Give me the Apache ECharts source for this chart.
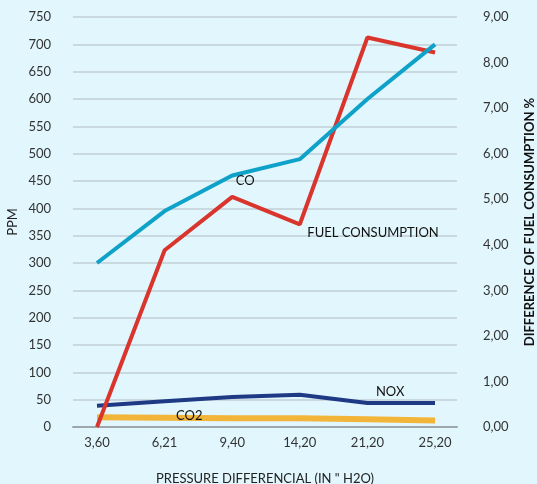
<!DOCTYPE html>
<html>
<head>
<meta charset="utf-8">
<script src="https://cdn.jsdelivr.net/npm/echarts@6/dist/echarts.min.js"></script>
<style>
html,body{margin:0;padding:0;background:#e1f6fd;}
#c{width:537px;height:484px;}
</style>
</head>
<body>
<div id="c"></div>
<script>
const categories = ['3,60', '6,21', '9,40', '14,20', '21,20', '25,20'];
const coPPM = [300, 395, 460, 490, 600, 700];
const noxPPM = [39, 47, 55, 59, 44, 44];
const co2PPM = [18, 17, 16, 16, 14, 12];
const fuelPct = [0, 3.88, 5.05, 4.45, 8.55, 8.22];
const leftTicks = [0, 750, 50];
const rightTicks = [0, 9, 1];

const font = 'Lato, "Open Sans", sans-serif';
const fs = 13;
function withLabel(arr, idx, label) {
  return arr.map((v, i) => i === idx ? { value: [i, v], label: Object.assign({ show: true }, label) } : [i, v]);
}
const lblBase = { color: '#111', fontFamily: font, fontSize: fs, position: 'right', distance: 5, formatter: p => p.seriesName };
const lineCommon = { type: 'line', showSymbol: true, symbol: 'circle', symbolSize: 1, itemStyle: { color: 'rgba(0,0,0,0)' }, label: { show: false } };

const chart = echarts.init(document.getElementById('c'));
chart.setOption({
  backgroundColor: '#e1f6fd',
  animation: false,
  grid: { left: 73, right: 80, top: 17, bottom: 57, containLabel: false, outerBoundsMode: 'none' },
  xAxis: {
    type: 'value', min: -0.355, max: 5.325,
    name: 'PRESSURE DIFFERENCIAL (IN " H2O)', nameLocation: 'middle', nameGap: 45, nameMoveOverlap: false,
    nameTextStyle: { color: '#222', fontFamily: font, fontSize: fs },
    axisLine: { show: true, lineStyle: { color: '#9ea8ac', width: 2 } },
    axisTick: { show: false },
    splitLine: { show: false },
    axisLabel: {
      customValues: categories.map((c, i) => i),
      formatter: v => categories[Math.round(v)] || '',
      color: '#333', fontFamily: font, fontSize: fs, margin: 9
    }
  },
  yAxis: [
    {
      type: 'value', min: leftTicks[0], max: leftTicks[1], interval: leftTicks[2],
      name: 'PPM', nameLocation: 'middle', nameGap: 54, nameRotate: 90, nameMoveOverlap: false,
      nameTextStyle: { color: '#222', fontFamily: font, fontSize: fs },
      axisLine: { show: false }, axisTick: { show: false },
      axisLabel: { color: '#333', fontFamily: font, fontSize: fs, margin: 22 },
      splitLine: { show: true, lineStyle: { color: '#c9d9df', width: 2 } }
    },
    {
      type: 'value', min: rightTicks[0], max: rightTicks[1], interval: rightTicks[2], position: 'right',
      name: 'DIFFERENCE OF FUEL CONSUMPTION %', nameLocation: 'middle', nameGap: 66, nameRotate: 90,
      nameTextStyle: { color: '#111', fontFamily: font, fontSize: fs, fontWeight: 'bold' },
      axisLine: { show: false }, axisTick: { show: false },
      axisLabel: { color: '#333', fontFamily: font, fontSize: fs, margin: 26, formatter: v => v.toFixed(2).replace('.', ',') },
      splitLine: { show: false }
    }
  ],
  series: [
    Object.assign({}, lineCommon, {
      name: 'CO2', yAxisIndex: 0,
      lineStyle: { color: '#f2b53a', width: 6 },
      data: withLabel(co2PPM, 1, Object.assign({}, lblBase, { offset: [6, -2] }))
    }),
    Object.assign({}, lineCommon, {
      name: 'NOX', yAxisIndex: 0,
      lineStyle: { color: '#1f3a85', width: 4 },
      data: withLabel(noxPPM, 4, Object.assign({}, lblBase, { offset: [3, -11] }))
    }),
    Object.assign({}, lineCommon, {
      name: 'FUEL CONSUMPTION', yAxisIndex: 1,
      lineStyle: { color: '#d9352c', width: 4 },
      data: withLabel(fuelPct, 3, Object.assign({}, lblBase, { offset: [2, 9] }))
    }),
    Object.assign({}, lineCommon, {
      name: 'CO', yAxisIndex: 0,
      lineStyle: { color: '#0ea2c9', width: 4 },
      data: withLabel(coPPM, 2, Object.assign({}, lblBase, { offset: [-2, 5] }))
    })
  ]
});
</script>
</body>
</html>
